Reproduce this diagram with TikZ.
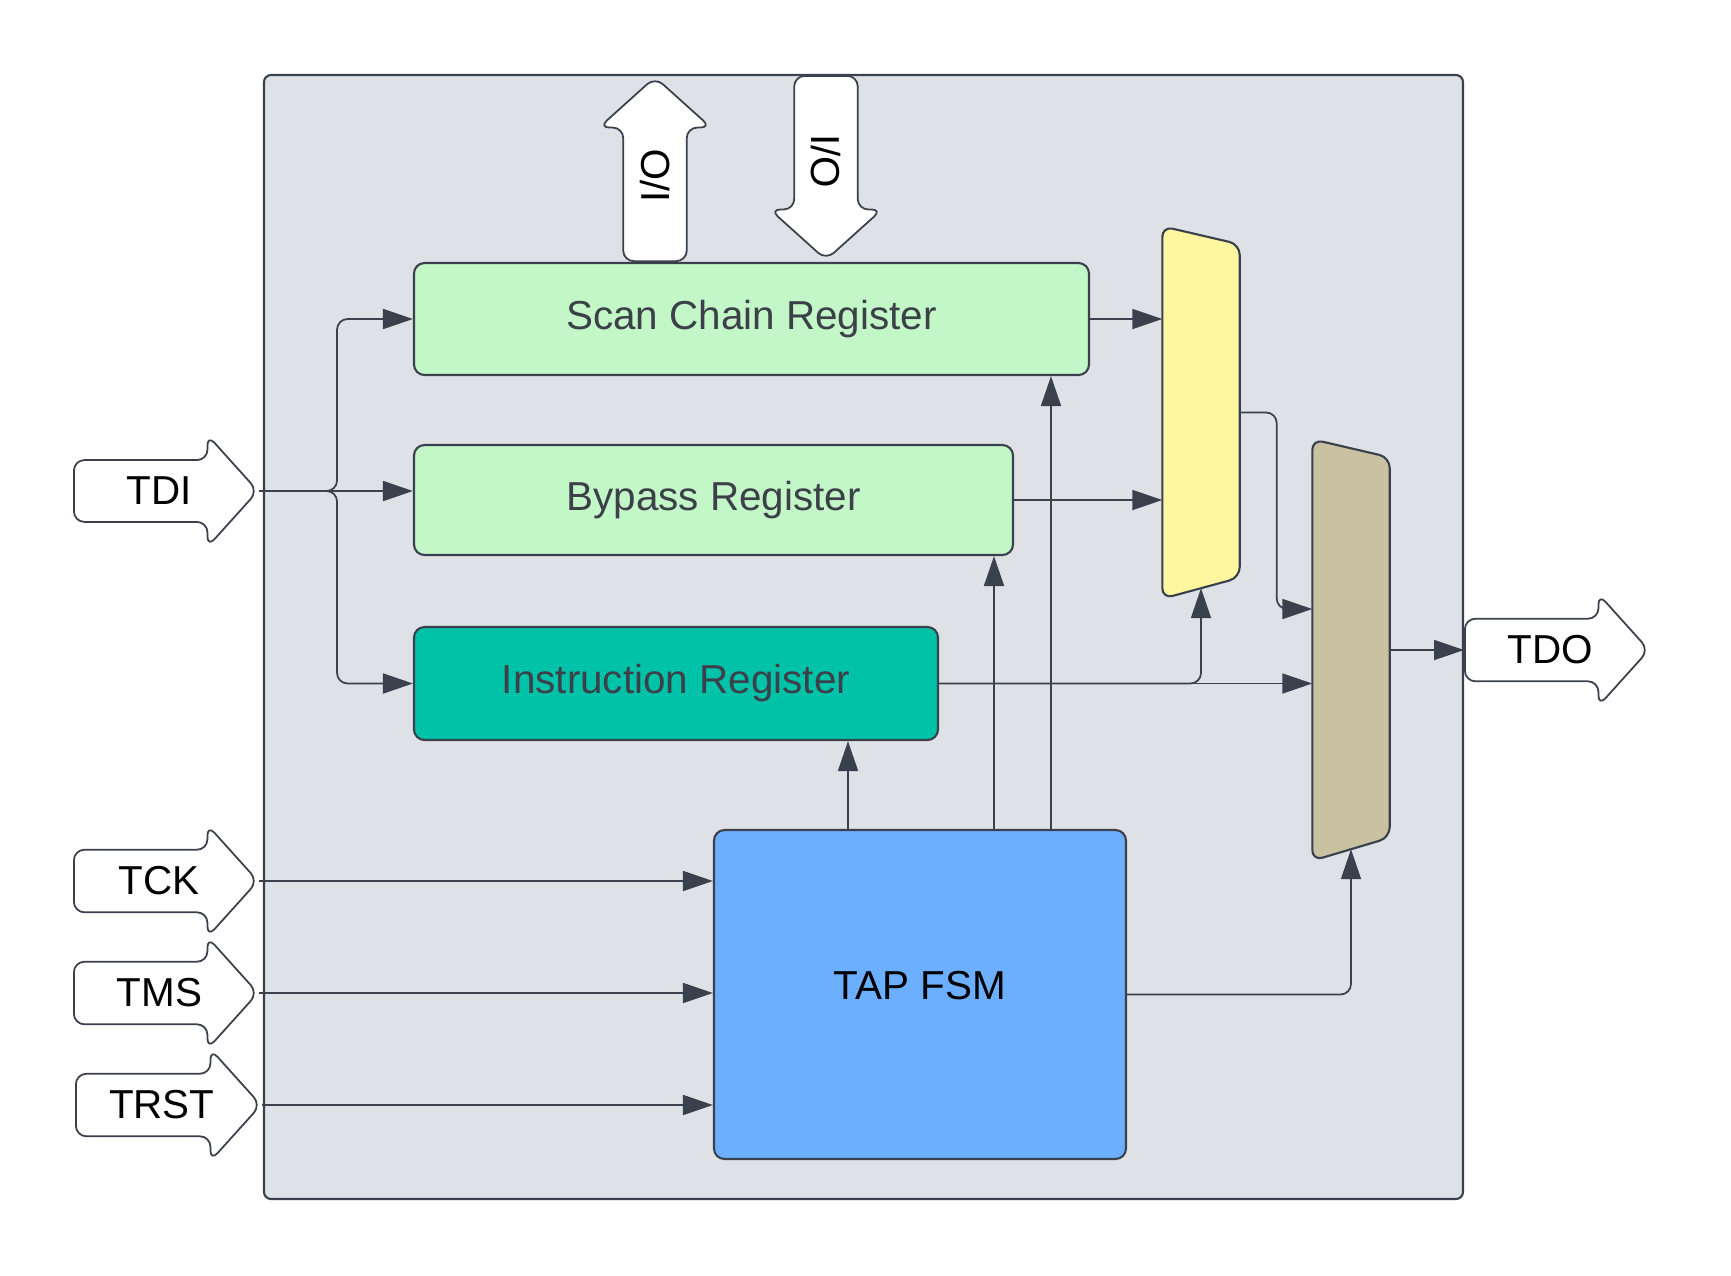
\documentclass[tikz,border=0pt]{standalone}
\usepackage{fontspec}
\setmainfont{Liberation Sans}
\usetikzlibrary{shapes, arrows.meta, positioning, calc}
\definecolor{wiregray}{RGB}{58, 65, 76}
\definecolor{chipgray}{RGB}{222, 226, 231}
\definecolor{reggreen}{RGB}{195, 247, 200}
\definecolor{regteal}{RGB}{0, 194, 168}
\definecolor{fsmblue}{RGB}{108, 174, 255}
\definecolor{muxyellow}{RGB}{255, 246, 160}
\definecolor{muxtan}{RGB}{202, 193, 161}
\definecolor{labelgray}{RGB}{60, 64, 72}

\tikzset{
  reg/.style={draw=wiregray, line width=0.6pt, rounded corners=3pt, font=\fontsize{11.5}{14}\selectfont, text=labelgray},
  wire/.style={draw=wiregray, line width=0.5pt, -{Triangle[length=3mm, width=2mm]}},
  pin/.style={single arrow, draw=wiregray, fill=white, line width=0.5pt, rounded corners=3pt,
    minimum height=1.84cm, minimum width=1.12cm, single arrow head extend=0.12cm,
    single arrow tip angle=96, inner sep=0pt, font=\fontsize{11.5}{14}\selectfont,
    execute at begin node=\hspace*{0.15cm}},
  muxbox/.style={minimum width=0.76cm, inner sep=0pt},
  mux/.style={draw=wiregray, line width=0.6pt, rounded corners=3pt},
}

\begin{document}
\begin{tikzpicture}[x=1cm, y=-1cm]
  \useasboundingbox (0,0) rectangle (17.31,12.75);

  % Chip outline
  \node[draw=wiregray, fill=chipgray, line width=0.6pt, rounded corners=2pt, minimum width=11.99cm, minimum height=11.24cm] (chip) at (8.635, 6.37) {};

  % Registers
  \node[reg, fill=reggreen, minimum width=6.75cm, minimum height=1.12cm] (scan) at (7.515, 3.19) {Scan Chain Register};
  \node[reg, fill=reggreen, minimum width=5.99cm, minimum height=1.10cm] (bypass) at (7.135, 5.00) {Bypass Register};
  \node[reg, fill=regteal, minimum width=5.24cm, minimum height=1.13cm] (instr) at (6.76, 6.835) {Instruction Register};
  \node[reg, fill=fsmblue, text=black, text depth=0.18cm, minimum width=4.12cm, minimum height=3.29cm] (tap) at (9.20, 9.945) {TAP FSM};

  % Multiplexers
  \node[muxbox, minimum height=3.71cm] (ymux) at (12.01, 4.125) {};
  \draw[mux, fill=muxyellow] (ymux.north west) -- ([yshift=-0.18cm]ymux.north east) -- ([yshift=0.21cm]ymux.south east) -- (ymux.south west) -- cycle;
  \node[muxbox, minimum height=4.20cm] (tmux) at (13.51, 6.50) {};
  \draw[mux, fill=muxtan] (tmux.north west) -- ([yshift=-0.18cm]tmux.north east) -- ([yshift=0.23cm]tmux.south east) -- (tmux.south west) -- cycle;

  % Pins
  \node[pin, anchor=tail] (tdi) at (0.73, 4.91) {TDI};
  \node[pin, anchor=tail] (tck) at (0.73, 8.81) {TCK};
  \node[pin, anchor=tail] (tms) at (0.73, 9.93) {TMS};
  \node[pin, anchor=tail, minimum height=1.85cm] (trst) at (0.75, 11.05) {TRST};
  \node[pin, anchor=tail] (tdo) at (14.64, 6.50) {TDO};
  \node[pin, anchor=tail, rotate=90] (ioout) at (6.55, 2.62) {I/O};
  \node[pin, anchor=tail, rotate=-90] (ioin) at (8.26, 0.75) {I/O};

  % TDI fan-out
  \draw[wire] (tdi.tip) -- (tdi.tip -| bypass.west);
  \draw[wire, rounded corners=3pt] (tdi.tip) -- ++(0.78,0) |- (scan.west);
  \draw[wire, rounded corners=3pt] (tdi.tip) -- ++(0.78,0) |- (instr.west);

  % Data paths to multiplexers
  \draw[wire] (scan.east) -- (scan.east -| ymux.west);
  \draw[wire] (bypass.east) -- (bypass.east -| ymux.west);
  \draw[wire] (instr.east) -- (instr.east -| tmux.west);
  \draw[wire, rounded corners=3pt] (instr.east) -| ([yshift=0.105cm]ymux.south);
  \draw[wire, rounded corners=3pt] (ymux.east) -- ++(0.37,0) |- ([yshift=0.41cm]tmux.west);
  \draw[wire] (tmux.east) -- (tdo.tail);

  % Control from TAP FSM
  \draw[wire] (tck.tip) -- (tck.tip -| tap.west);
  \draw[wire] (tms.tip) -- (tms.tip -| tap.west);
  \draw[wire] (trst.tip) -- (trst.tip -| tap.west);
  \draw[wire, rounded corners=3pt] (tap.east) -| ([yshift=0.115cm]tmux.south);
  \path ([xshift=-0.72cm]tap.north) coordinate (ctlir)
        ([xshift=0.74cm]tap.north) coordinate (ctlbp)
        ([xshift=1.31cm]tap.north) coordinate (ctlsc);
  \draw[wire] (ctlir) -- (ctlir |- instr.south);
  \draw[wire] (ctlbp) -- (ctlbp |- bypass.south);
  \draw[wire] (ctlsc) -- (ctlsc |- scan.south);
\end{tikzpicture}
\end{document}
